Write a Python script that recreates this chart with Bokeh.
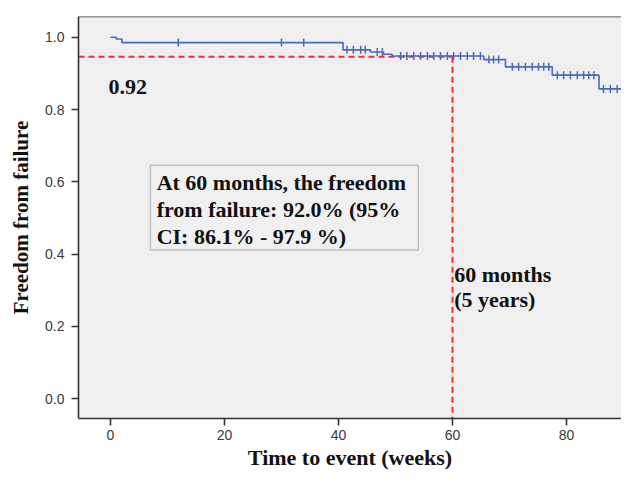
from bokeh.plotting import figure
from bokeh.models import (Range1d, FixedTicker, PrintfTickFormatter, Span, Label,
                          BoxAnnotation)
from bokeh.embed import file_html
from bokeh.resources import INLINE
import numpy as np

# ---- data ----
step_times = [0.0, 1.0, 2.0, 40.8, 45.6, 47.9, 49.4, 65.5, 69.3, 77.5, 85.7]
step_surv = [1.0, 0.995, 0.985, 0.965, 0.959, 0.953, 0.948, 0.938, 0.918, 0.895, 0.857]
censor_times = [11.9, 30.0, 33.9,
                41.5, 42.6, 43.9, 44.7,
                46.8, 47.7,
                50.9, 52.0, 53.2, 54.4, 55.6, 56.7, 57.9, 59.1, 60.2, 61.4, 62.6, 63.7, 64.9,
                66.4, 67.2, 68.1,
                70.5, 71.6, 72.8, 74.0, 75.1, 76.0, 76.9,
                78.4, 79.5, 80.7, 81.9, 83.0, 83.9, 84.8,
                86.5, 87.7, 88.9, 89.8, 90.6, 91.5, 92.4]
ref_time = 60
ref_value = 0.946
x_ticks = [0, 20, 40, 60, 80]
y_ticks = [0.0, 0.2, 0.4, 0.6, 0.8, 1.0]
box_lines = ["At 60 months, the freedom", "from failure: 92.0% (95%", "CI: 86.1% - 97.9 %)"]

x0, x1 = -5.61, 89.65
y0, y1 = -0.0545, 1.0572

SERIF = "Liberation Serif"
SANS = "Liberation Sans"
BLUE = "#4a6abd"
RED = "#ff2a2a"
FS = "22px"

p = figure(width=621, height=472, output_backend="svg", toolbar_location=None,
           x_range=Range1d(x0, x1), y_range=Range1d(y0, y1))
p.min_border_left = 78
p.min_border_top = 16
p.min_border_bottom = 46
p.min_border_right = 0
p.background_fill_color = "#efefef"
p.border_fill_color = "white"
p.outline_line_color = None
p.xgrid.visible = False
p.ygrid.visible = False

for ax in (p.xaxis[0], p.yaxis[0]):
    ax.axis_line_color = "#333333"
    ax.axis_line_width = 1.6
    ax.major_tick_line_color = "#333333"
    ax.major_tick_line_width = 1.6
    ax.major_tick_out = 7
    ax.major_tick_in = 0
    ax.minor_tick_line_color = None
    ax.major_label_text_font = SANS
    ax.major_label_text_font_size = "14px"
    ax.major_label_text_color = "#3a3a3a"
    ax.axis_label_text_font = SERIF
    ax.axis_label_text_font_style = "bold"
    ax.axis_label_text_color = "#111111"

p.xaxis.axis_label_text_font_size = "22px"
p.yaxis.axis_label_text_font_size = "21px"
p.xaxis.ticker = FixedTicker(ticks=x_ticks)
p.yaxis.ticker = FixedTicker(ticks=y_ticks)
p.yaxis.formatter = PrintfTickFormatter(format="%.1f")
p.xaxis.axis_label = "Time to event (weeks)"
p.yaxis.axis_label = "Freedom from failure"
p.xaxis.major_label_standoff = 4
p.yaxis.major_label_standoff = 7
p.xaxis.axis_label_standoff = 2
p.yaxis.axis_label_standoff = 9

# top border line
p.add_layout(Span(location=y1, dimension="width", line_color="#333333", line_width=1.6))

# reference dashed lines
p.line([x0, ref_time], [ref_value, ref_value], line_color=RED, line_width=2, line_dash="6 4")
p.line([ref_time, ref_time], [ref_value, y0], line_color=RED, line_width=2, line_dash="6 4")

# KM curve
st = np.array(step_times)
sv = np.array(step_surv)
end_t = max(censor_times) + 2
xs = list(step_times) + [end_t]
ys = list(step_surv) + [step_surv[-1]]
p.step(xs, ys, mode="after", line_color=BLUE, line_width=1.6)

ct = np.array(censor_times)
cy = sv[np.searchsorted(st, ct, side="right") - 1]
p.scatter(ct, cy, marker="dash", angle=np.pi / 2, size=8, line_color=BLUE, line_width=1.5)

# text box
p.add_layout(BoxAnnotation(left=7.0, right=54.0, bottom=0.4114, top=0.6458,
                           fill_color="#f0f0f0", fill_alpha=1.0,
                           line_color="#555555", line_width=1.5))


def lab(x, y, t, align="left"):
    p.add_layout(Label(x=x, y=y, text=t, text_font=SERIF, text_font_style="bold",
                       text_font_size=FS, text_color="#111111",
                       text_baseline="middle", text_align=align))


for t, yy in zip(box_lines, [0.5995, 0.5232, 0.4496]):
    lab(8.1, yy, t)

lab(-0.35, 0.861, "0.92")
lab(60.3, 0.343, "60  months")
lab(60.3, 0.275, "(5 years)")

open("out.html", "w").write(file_html(p, INLINE))
